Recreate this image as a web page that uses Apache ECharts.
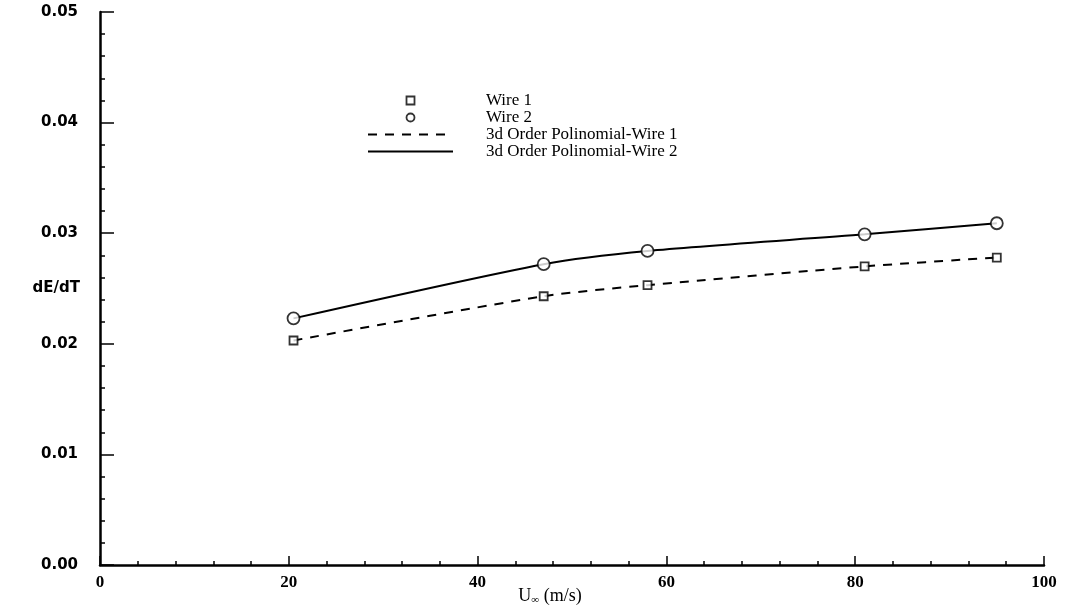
<!DOCTYPE html>
<html>
<head>
<meta charset="utf-8">
<script src="https://cdn.jsdelivr.net/npm/echarts@6/dist/echarts.min.js"></script>
<style>
  html, body { margin: 0; padding: 0; background: #fff; }
  #main { width: 1080px; height: 613px; }
</style>
</head>
<body>
<div id="main"></div>
<script>
// 数据
var wire1 = [[20.5, 0.0203], [47, 0.0243], [58, 0.0253], [81, 0.0270], [95, 0.0278]];
var wire2 = [[20.5, 0.0223], [47, 0.0272], [58, 0.0284], [81, 0.0299], [95, 0.0309]];
var names = ['Wire 1', 'Wire 2', '3d Order Polinomial-Wire 1', '3d Order Polinomial-Wire 2'];

var chart = echarts.init(document.getElementById('main'));

var option = {
    backgroundColor: '#fff',
    animation: false,
    // 图形位置
    grid: { left: 100, right: 36, top: 12, bottom: 48, outerBoundsMode: 'none' },
    legend: {
        orient: 'vertical',
        left: 362,
        top: 87,
        itemWidth: 85,
        itemHeight: 8,
        itemGap: 0,
        symbolKeepAspect: true,
        data: [
            { name: names[0], icon: 'path://M0,0L10,0L10,10L0,10Z', itemStyle: { color: '#fff', borderColor: '#000', borderWidth: 1.8 } },
            { name: names[1], icon: 'circle', itemStyle: { color: '#fff', borderColor: '#000', borderWidth: 1.8 } },
            { name: names[2], itemStyle: { opacity: 0 } },
            { name: names[3], itemStyle: { opacity: 0 } }
        ],
        textStyle: {
            fontFamily: 'Liberation Serif',
            fontSize: 17,
            color: '#000',
            lineHeight: 17,
            padding: [0, 0, 0, 28]
        }
    },
    xAxis: {
        type: 'value',
        min: 0,
        max: 100,
        interval: 20,
        name: 'U{sub|∞} (m/s)',
        nameLocation: 'middle',
        nameGap: 22,
        nameMoveOverlap: false,
        nameTextStyle: {
            fontFamily: 'Liberation Serif',
            fontSize: 18,
            color: '#000',
            padding: [0, 44, 0, 0],
            rich: { sub: { fontSize: 11, verticalAlign: 'bottom', padding: [8, 0, 0, 0] } }
        },
        axisLine: { lineStyle: { color: '#000', width: 2.5 } },
        axisTick: { inside: true, length: 9, lineStyle: { color: '#000', width: 1.5 } },
        minorTick: { show: true, splitNumber: 5, length: 4, lineStyle: { color: '#000', width: 1.5 } },
        axisLabel: {
            margin: 9,
            fontFamily: 'Liberation Serif',
            fontWeight: 'bold',
            fontSize: 17,
            color: '#000'
        },
        splitLine: { show: false }
    },
    yAxis: {
        type: 'value',
        min: 0,
        max: 0.05,
        interval: 0.01,
        name: 'dE/dT',
        nameLocation: 'middle',
        nameRotate: 0,
        nameGap: 20,
        nameMoveOverlap: false,
        nameTextStyle: {
            fontFamily: 'DejaVu Sans',
            fontWeight: 'bold',
            fontSize: 15,
            color: '#000',
            align: 'right',
            padding: [10, 0, 0, 0]
        },
        axisLine: { show: true, lineStyle: { color: '#000', width: 2.5 } },
        axisTick: { show: true, inside: true, length: 14, lineStyle: { color: '#000', width: 1.5 } },
        minorTick: { show: true, splitNumber: 5, length: 5, lineStyle: { color: '#000', width: 1.5 } },
        axisLabel: {
            margin: 22,
            fontFamily: 'DejaVu Sans',
            fontWeight: 'bold',
            fontSize: 15,
            color: '#000',
            formatter: function (v) { return v.toFixed(2); }
        },
        splitLine: { show: false }
    },
    series: [{
        name: names[0],
        type: 'scatter',
        symbol: 'rect',
        symbolSize: 8,
        itemStyle: { color: '#fff', borderColor: '#000', borderWidth: 1.8 },
        data: wire1,
        z: 5
    }, {
        name: names[1],
        type: 'scatter',
        symbol: 'circle',
        symbolSize: 12,
        itemStyle: { color: '#fff', borderColor: '#000', borderWidth: 1.8 },
        data: wire2,
        z: 5
    }, {
        name: names[2],
        type: 'line',
        smooth: 0.25,
        symbol: 'none',
        lineStyle: { color: '#000', width: 2, type: [9, 8] },
        itemStyle: { color: '#000' },
        data: wire1
    }, {
        name: names[3],
        type: 'line',
        smooth: 0.25,
        symbol: 'none',
        lineStyle: { color: '#000', width: 2, type: 'solid' },
        itemStyle: { color: '#000' },
        data: wire2
    }]
};

chart.setOption(option);
</script>
</body>
</html>
